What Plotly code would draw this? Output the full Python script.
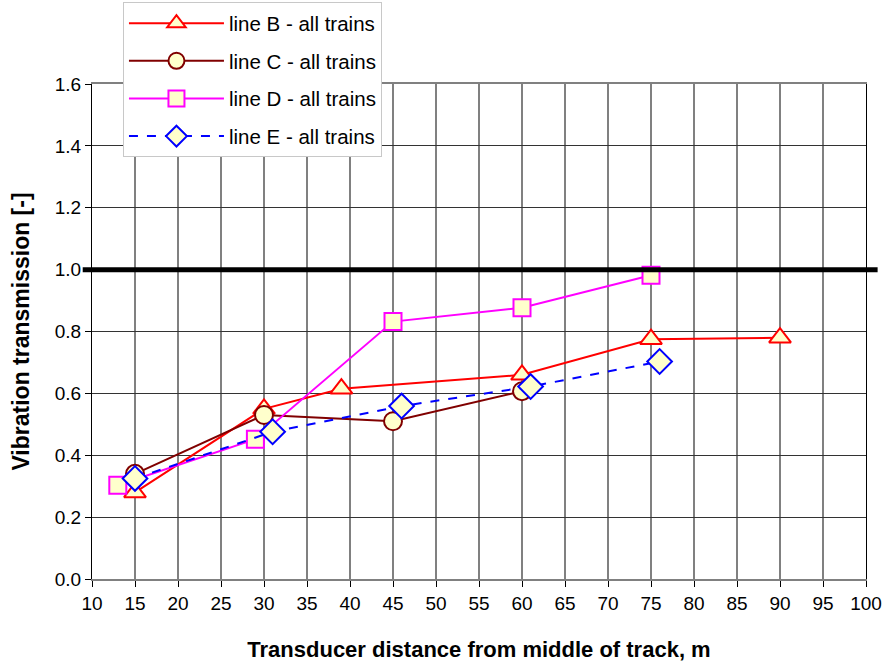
import plotly.graph_objects as go

# Data
b_x = [15, 30, 39, 60, 75, 90]
b_y = [0.28, 0.55, 0.615, 0.66, 0.775, 0.78]
c_x = [15, 30, 45, 60]
c_y = [0.34, 0.53, 0.51, 0.607]
d_x = [13, 29, 45, 60, 75]
d_y = [0.303, 0.452, 0.832, 0.877, 0.982]
e_x = [15, 31, 46, 61, 76]
e_y = [0.325, 0.476, 0.559, 0.622, 0.703]

x_ticks = list(range(10, 101, 5))
y_ticks = [0.0, 0.2, 0.4, 0.6, 0.8, 1.0, 1.2, 1.4, 1.6]

FILL = "#FFFFCC"
FONT = "Liberation Sans, Arial, sans-serif"

fig = go.Figure()

series = [
    ("line B - all trains", b_x, b_y, "#FF0000", "solid", "triangle-up", 19),
    ("line C - all trains", c_x, c_y, "#800000", "solid", "circle", 18),
    ("line D - all trains", d_x, d_y, "#FF00FF", "solid", "square", 17),
    ("line E - all trains", e_x, e_y, "#0000FF", "dash", "diamond", 19),
]
for i, (name, xs, ys, col, dash, sym, size) in enumerate(series):
    fig.add_trace(go.Scatter(
        x=xs, y=ys, name=name, mode="lines+markers",
        line=dict(color=col, width=2, dash=dash),
        marker=dict(symbol=sym, size=size, color=FILL, line=dict(color=col, width=2)),
        legendgroup=f"g{i}", cliponaxis=False,
    ))

# reference line at 1.0
fig.add_shape(type="line", xref="paper", yref="y", x0=-0.012, x1=1.015, y0=1.0, y1=1.0,
              line=dict(color="black", width=5), layer="above")

fig.update_layout(
    width=885, height=664,
    margin=dict(l=92, r=19, t=84, b=85, autoexpand=False),
    paper_bgcolor="white", plot_bgcolor="white",
    font=dict(family=FONT, size=19, color="black"),
    showlegend=True,
    legend=dict(
        x=0.04, y=1.165, xanchor="left", yanchor="top",
        bgcolor="white", bordercolor="#C8C8C8", borderwidth=1,
        font=dict(family=FONT, size=20.5),
        itemwidth=95, tracegroupgap=8,
    ),
    xaxis=dict(
        range=[10, 100], tickvals=x_ticks, ticktext=[str(v) for v in x_ticks],
        showgrid=True, gridcolor="#808080", gridwidth=1.5,
        showline=True, linecolor="#808080", linewidth=1.5, mirror=True,
        ticks="outside", ticklen=6, tickcolor="black",
        zeroline=False, automargin=False,
        title=dict(text="<b>Transducer distance from middle of track, m</b>",
                   font=dict(size=22), standoff=29),
        tickfont=dict(size=19),
    ),
    yaxis=dict(
        range=[0, 1.6], tickvals=y_ticks, ticktext=[f"{v:.1f}" for v in y_ticks],
        showgrid=True, gridcolor="#333333", gridwidth=1,
        showline=True, linecolor="black", linewidth=1, mirror=True,
        ticks="outside", ticklen=6, tickcolor="black",
        zeroline=False, automargin=False,
        title=dict(text="<b>Vibration transmission [-]</b>", font=dict(size=23), standoff=18),
        tickfont=dict(size=19),
    ),
)

fig.write_html("out.html")
